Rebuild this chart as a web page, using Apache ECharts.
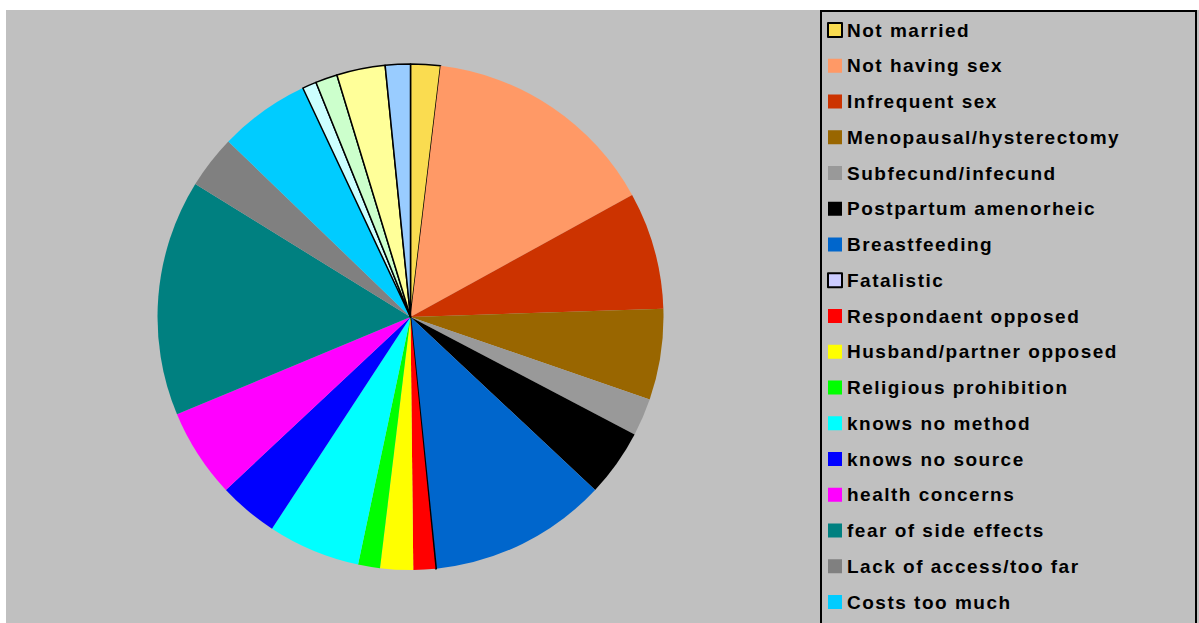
<!DOCTYPE html>
<html>
<head>
<meta charset="utf-8">
<script src="https://cdn.jsdelivr.net/npm/echarts@6/dist/echarts.min.js"></script>
<style>
  html, body { margin: 0; padding: 0; background: #ffffff; }
  #chart { width: 1199px; height: 623px; }
  #chart svg text { letter-spacing: 1.5px; }
</style>
</head>
<body>
<div id="chart"></div>
<script>
// Reasons for not using contraception, share of women (%)
const categories = [
  'Not married', 'Not having sex', 'Infrequent sex', 'Menopausal/hysterectomy',
  'Subfecund/infecund', 'Postpartum amenorheic', 'Breastfeeding', 'Fatalistic',
  'Respondaent opposed', 'Husband/partner opposed', 'Religious prohibition',
  'knows no method', 'knows no source', 'health concerns', 'fear of side effects',
  'Lack of access/too far', 'Costs too much', 'Inconvenient to use',
  'Interferes with body', 'Other', "Don't know"
];
const values = [
  1.9, 15.1, 7.5, 5.8, 2.4, 4.3, 11.4, 0.05, 1.4, 2.1, 1.4,
  5.9, 3.8, 5.7, 15.1, 3.4, 5.8, 0.9, 1.4, 3.1, 1.6
];
const colors = [
  '#FADC50', '#FF9966', '#CC3300', '#996600', '#999999', '#000000', '#0066CC',
  '#CCCCFF', '#FF0000', '#FFFF00', '#00FF00', '#00FFFF', '#0000FF', '#FF00FF',
  '#008080', '#808080', '#00CCFF', '#CCFFFF', '#CCFFCC', '#FFFF99', '#99CCFF'
];
// pale slices are outlined in black
const outlined = [
  'Not married', 'Fatalistic', 'Inconvenient to use',
  'Interferes with body', 'Other', "Don't know"
];
// entries that fit inside the legend box
const legendNames = categories.slice(0, 17);

const pieData = categories.map((name, i) => ({
  name: name,
  value: values[i],
  itemStyle: outlined.includes(name)
    ? { color: colors[i], borderColor: '#000000', borderWidth: 1.5 }
    : { color: colors[i], borderWidth: 0 }
}));

const chart = echarts.init(document.getElementById('chart'), null, { renderer: 'svg' });
chart.setOption({
  animation: false,
  backgroundColor: '#ffffff',
  graphic: [
    {
      type: 'rect', z: -10, silent: true,
      shape: { x: 6, y: 10, width: 1193, height: 620 },
      style: { fill: '#C0C0C0' }
    },
    {
      type: 'rect', z: -5, silent: true,
      shape: { x: 821, y: 11, width: 375, height: 640 },
      style: { fill: '#C0C0C0', stroke: '#000000', lineWidth: 2 }
    }
  ],
  legend: {
    type: 'plain',
    orient: 'vertical',
    left: 827,
    top: 20,
    height: 2000,
    padding: 0,
    itemWidth: 14,
    itemHeight: 14,
    itemGap: 15.75,
    icon: 'rect',
    selectedMode: false,
    data: legendNames,
    textStyle: {
      fontFamily: 'Liberation Sans, Arial, sans-serif',
      fontWeight: 'bold',
      fontSize: 19,
      lineHeight: 20,
      color: '#000000'
    }
  },
  series: [{
    type: 'pie',
    center: [410.5, 317],
    radius: [0, 253],
    startAngle: 90,
    clockwise: true,
    label: { show: false },
    labelLine: { show: false },
    emphasis: { disabled: true },
    data: pieData
  }]
});
</script>
</body>
</html>
